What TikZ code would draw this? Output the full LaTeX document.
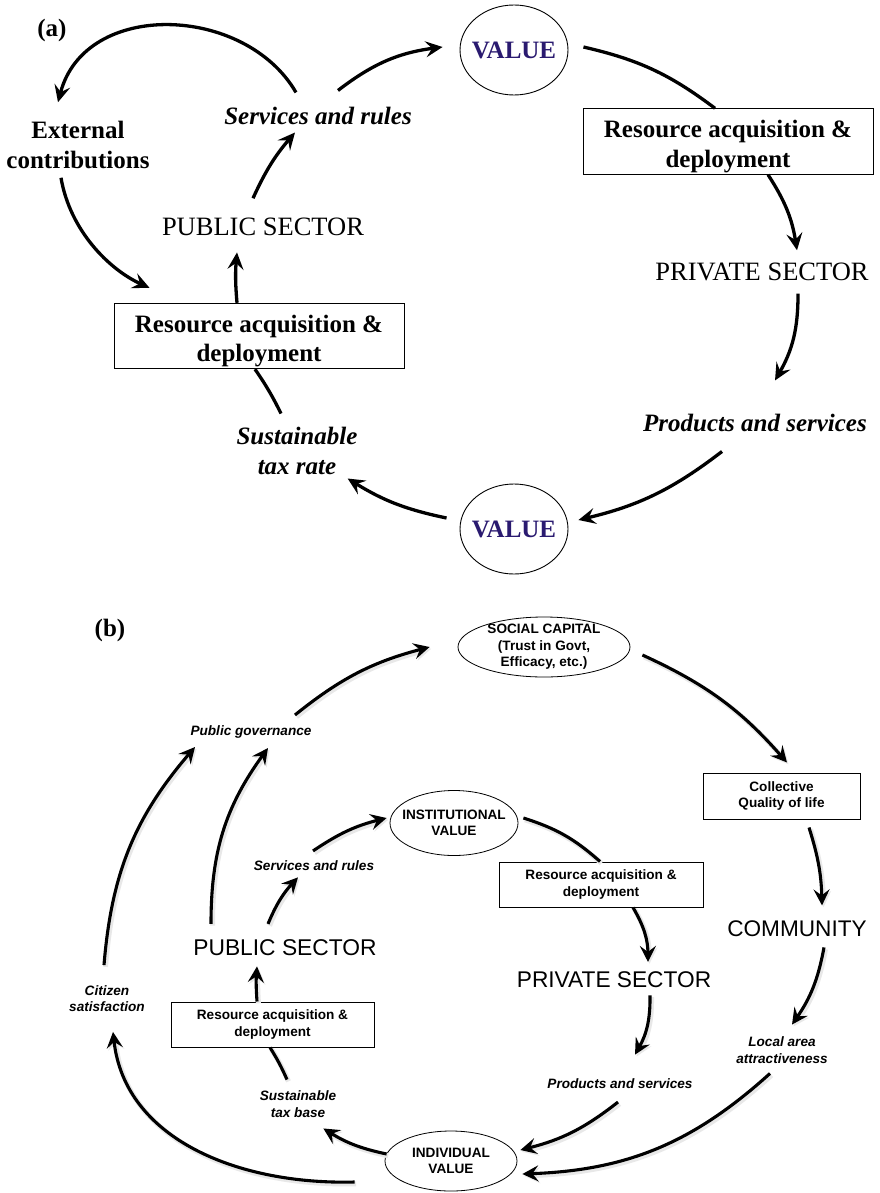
\documentclass[tikz,border=0pt]{standalone}
\usepackage{fontspec}
\setmainfont{Liberation Serif}
\newfontfamily\hvfont{Liberation Sans}
\usetikzlibrary{arrows.meta,shapes.geometric,calc}
\definecolor{valueblue}{RGB}{42,26,112}

\tikzset{
  flowA/.style={line width=3.3pt, -{Stealth[length=17pt,width=16pt,inset=6.5pt]}},
  linkA/.style={line width=3.3pt},
  softshadow/.style={preaction={draw=black!9, line width=5pt,
      transform canvas={shift={(1.5pt,-1.8pt)}}}},
  flowB/.style={softshadow, line width=3.1pt, -{Stealth[length=16pt,width=16pt,inset=6pt]}},
  linkB/.style={softshadow, line width=3.1pt},
  serifbig/.style={font=\fontsize{26.5}{30}\selectfont, inner sep=0pt},
  boldA/.style={font=\fontsize{25}{29.5}\selectfont\bfseries, inner sep=0pt, align=center},
  itA/.style={font=\fontsize{25}{30}\selectfont\bfseries\itshape, inner sep=0pt, align=center},
  boxA/.style={draw, line width=1pt, minimum width=290pt, minimum height=65pt,
    inner sep=1.5pt, align=center, font=\fontsize{25}{29.5}\selectfont\bfseries},
  valA/.style={ellipse, draw, line width=0.9pt, minimum width=108pt, minimum height=90pt,
    inner xsep=-6pt, inner ysep=0pt, text=valueblue, font=\fontsize{25}{30}\selectfont\bfseries},
  sansbig/.style={font=\hvfont\fontsize{22.7}{26}\selectfont, inner sep=0pt},
  boldB/.style={font=\hvfont\fontsize{13.6}{16.5}\selectfont\bfseries, align=center},
  itB/.style={font=\hvfont\fontsize{13.6}{16.5}\selectfont\bfseries\itshape, inner sep=0pt, align=center},
  boxB/.style={boldB, draw, line width=1pt, inner sep=0pt},
  ellB/.style={boldB, ellipse, draw, line width=0.8pt, inner xsep=0pt, inner ysep=0pt},
}

\begin{document}
\begin{tikzpicture}[x=1pt,y=1pt]
\useasboundingbox[fill=white] (0,0) rectangle (880,-1193);

% ---------------- panel (a) ----------------
\node[boldA, anchor=base] (la) at (52,-37) {(a)};
\node[valA] (val1) at (514,-50) {VALUE};
\node[valA] (val2) at (514,-529) {VALUE};
\node[itA, anchor=base] (srules) at (318,-125) {Services and rules};
\node[boldA] (ext) at (78,-145) {External\\contributions};
\node[serifbig, anchor=base] (pub1) at (263,-235) {PUBLIC SECTOR};
\node[boxA] (ra1) at (259,-336) {\rule{0pt}{27.5pt}Resource acquisition \&\\deployment};
\node[itA] (sus1) at (297,-450.5) {Sustainable\\tax rate};
\node[boxA] (ra2) at (728,-141.5) {\rule{0pt}{27.5pt}Resource acquisition \&\\deployment};
\node[serifbig, anchor=base] (priv1) at (762,-280) {PRIVATE SECTOR};
\node[itA, anchor=base] (prod1) at (755,-431) {Products and services};

\draw[flowA] ($(srules.north)+(20,17)$) to[bend left=15] ($(val1.west)+(-17,3)$);
\draw[flowA] ($(srules.north)+(-22,15)$) .. controls +(-51,88) and +(27,103) .. ($(ext.north)+(-20,19)$);
\draw[flowA] ($(ext.south)+(-17,-9)$) .. controls +(9,-53) and +(-40,18) .. ($(ra1.north west)+(36,15)$);
\draw[flowA] ($(ra1.north)+(-22,0)$) to[bend left=5] ($(pub1.south)+(-26,-17)$);
\draw[flowA] ($(pub1.north)+(-10,19)$) to[bend left=8] ($(srules.south)+(-23,-7)$);
\draw[linkA] ($(sus1.north)+(-16,13)$) to[bend right=4] ($(ra1.south)+(-4,0)$);
\draw[flowA] ($(val2.west)+(-13,11)$) to[bend left=10] ($(sus1.south east)+(-10,-4)$);
\draw[linkA] ($(val1.east)+(15,3)$) to[bend left=12] ($(ra2.north)+(-13,0)$);
\draw[flowA] ($(ra2.south)+(40,0)$) to[bend left=12] ($(priv1.north)+(35,12)$);
\draw[flowA] ($(priv1.south)+(36,-13)$) to[bend left=15] ($(prod1.north)+(20,33)$);
\draw[flowA] ($(prod1.south)+(-33,-20)$) to[bend left=12] ($(val2.east)+(10,9)$);

% ---------------- panel (b) ----------------
\node[boldA, anchor=base] (lb) at (110,-636) {(b)};
\node[ellB, minimum width=172pt, minimum height=60pt, inner ysep=-2pt] (soc) at (544,-647)
  {SOCIAL CAPITAL\\(Trust in Govt,\\Efficacy, etc.)};
\node[itB, anchor=base] (pgov) at (251,-735) {Public governance};
\node[itB] (cit) at (107,-998.5) {Citizen\\satisfaction};
\node[sansbig, anchor=base, font=\hvfont\fontsize{22.8}{26}\selectfont] (pub2) at (285,-955) {PUBLIC SECTOR};
\node[itB, anchor=base] (srb) at (314,-870) {Services and rules};
\node[ellB, minimum width=128pt, minimum height=65pt, inner xsep=-6.5pt] (inst) at (454,-823) {INSTITUTIONAL\\VALUE};
\node[boxB, minimum width=204pt, minimum height=45pt] (ra3) at (601,-884.5) {Resource acquisition \&\\deployment};
\node[sansbig, anchor=base] (priv2) at (614,-987) {PRIVATE SECTOR};
\node[itB, anchor=base] (prodb) at (620,-1088.7) {Products and services};
\node[ellB, minimum width=132pt, minimum height=60pt] (ind) at (451,-1161) {INDIVIDUAL\\VALUE};
\node[boxB, minimum width=203pt, minimum height=45pt] (rab) at (272.5,-1024.5) {Resource acquisition \&\\deployment};
\node[itB] (susb) at (298,-1104) {Sustainable\\tax base};
\node[boxB, minimum width=157pt, minimum height=46pt] (col) at (781.5,-796) {Collective\\Quality of life};
\node[sansbig, anchor=base, font=\hvfont\fontsize{22.6}{26}\selectfont] (comm) at (797,-936) {COMMUNITY};
\node[itB] (loc) at (782,-1050) {Local area\\attractiveness};

\draw[flowB] ($(pgov.north)+(44,10)$) to[bend left=12] ($(soc.west)+(-28,0)$);
\draw[flowB] ($(cit.north)+(-3,20)$) to[bend left=18] ($(pgov.south)+(-56,-9)$);
\draw[flowB] ($(pub2.north)+(-74,15)$) to[bend left=18] ($(pgov.south)+(17,-10)$);
\draw[flowB] ($(pub2.north)+(-17,15)$) to[bend left=10] ($(srb.south)+(-16,-7)$);
\draw[flowB] ($(srb.north)+(-1,9)$) to[bend left=10] ($(inst.west)+(-3,5)$);
\draw[linkB] ($(inst.east)+(5,5)$) to[bend left=12] ($(ra3.north)+(-1,0)$);
\draw[flowB] ($(ra3.south)+(32,0)$) to[bend left=15] ($(priv2.north)+(34,9)$);
\draw[flowB] ($(priv2.south)+(36,-8)$) to[bend left=15] ($(prodb.north)+(15,24)$);
\draw[flowB] ($(prodb.south)+(-2,-13)$) to[bend left=12] ($(ind.east)+(3,11)$);
\draw[flowB] ($(rab.north)+(-15.5,0)$) to[bend left=4] ($(pub2.south)+(-28,-11)$);
\draw[linkB] ($(susb.north)+(-11,11)$) to[bend right=4] ($(rab.south)+(-2.5,0)$);
\draw[flowB] ($(ind.west)+(2,7)$) to[bend left=10] ($(susb.south east)+(-13,-11)$);
\draw[flowB] ($(ind.west)+(-30,-21)$) .. controls +(-115,-3) and +(12,-108) .. ($(cit.south)+(6,-20)$);
\draw[flowB] ($(loc.south)+(-12,-10)$) to[bend left=20] ($(ind.east)+(5,-13)$);
\draw[flowB] ($(comm.south)+(27,-11)$) to[bend left=12] ($(loc.north)+(10,12)$);
\draw[flowB] ($(col.south)+(27.5,-8)$) to[bend left=8] ($(comm.north)+(25,14.6)$);
\draw[flowB] ($(soc.east)+(12,-8)$) to[bend left=12] ($(col.north)+(5.5,10)$);
\end{tikzpicture}
\end{document}
